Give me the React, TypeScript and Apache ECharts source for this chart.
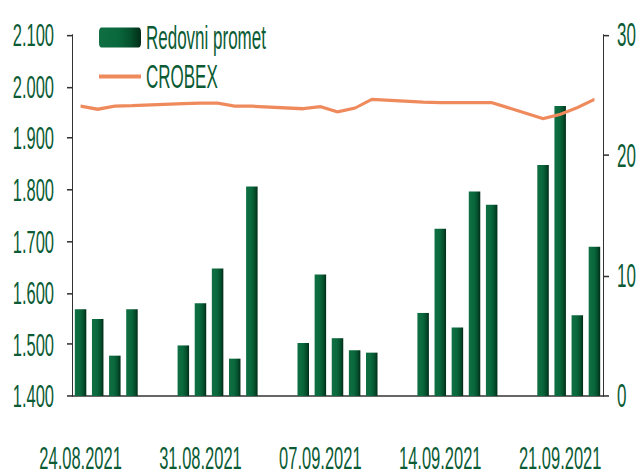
import React, { useEffect, useRef } from "react";
import * as echarts from "echarts";

// Calendar days shown on the category axis (weekends have no trading data)
const dates: string[] = [
  "24.08.2021", "25.08.2021", "26.08.2021", "27.08.2021", "28.08.2021", "29.08.2021", "30.08.2021",
  "31.08.2021", "01.09.2021", "02.09.2021", "03.09.2021", "04.09.2021", "05.09.2021", "06.09.2021",
  "07.09.2021", "08.09.2021", "09.09.2021", "10.09.2021", "11.09.2021", "12.09.2021", "13.09.2021",
  "14.09.2021", "15.09.2021", "16.09.2021", "17.09.2021", "18.09.2021", "19.09.2021", "20.09.2021",
  "21.09.2021", "22.09.2021", "23.09.2021",
];

// Redovni promet (right axis)
const turnover: (number | null)[] = [
  7.2, 6.4, 3.35, 7.2, null, null, 4.2,
  7.7, 10.6, 3.1, 17.4, null, null, 4.4,
  10.1, 4.8, 3.8, 3.6, null, null, 6.9,
  13.9, 5.7, 17.0, 15.9, null, null, 19.2,
  24.1, 6.7, 12.4,
];

// CROBEX (left axis)
const crobex: (number | null)[] = [
  1962, 1956, 1962, 1963, null, null, 1967,
  1968, 1968, 1962, 1962, null, null, 1957,
  1961, 1951, 1958, 1975, null, null, 1970,
  1969, 1969, 1969, 1969, null, null, 1938,
  1946, 1959, 1975,
];

const leftTicks = { min: 1400, max: 2100, interval: 100 };
const rightTicks = { min: 0, max: 30, interval: 10 };

const W = 641;
const H = 474;
const CH = 246; // unscaled chart height; stretched vertically to H
const SY = H / CH;

const GREEN = "#0b5b35";
const FONT = "'Liberation Sans', Arial, sans-serif";

export default function App() {
  const ref = useRef<HTMLDivElement>(null);
  useEffect(() => {
    if (!ref.current) return;
    const chart = echarts.init(ref.current, null, { renderer: "svg" });
    const barColor = new echarts.graphic.LinearGradient(0, 0, 1, 0, [
      { offset: 0, color: "#0f6f42" },
      { offset: 0.45, color: "#0a683d" },
      { offset: 0.75, color: "#05512d" },
      { offset: 1, color: "#012c17" },
    ]);
    const plotBottom = 399 / SY;
    chart.setOption({
      animation: false,
      textStyle: { fontFamily: FONT },
      grid: { left: 72, right: 38, top: 35 / SY, bottom: CH - plotBottom },
      legend: {
        orient: "vertical",
        left: 93,
        top: 6,
        itemWidth: 42,
        itemHeight: 10.4,
        itemGap: 3.2,
        textStyle: { fontFamily: FONT, fontSize: 17, color: GREEN, lineHeight: 17 },
        data: ["Redovni promet", { name: "CROBEX", itemStyle: { opacity: 0 } }],
      },
      xAxis: {
        type: "category",
        data: dates,
        boundaryGap: true,
        axisLine: { lineStyle: { color: "#333", width: 0.8 } },
        axisTick: { interval: 6, length: 3.6, lineStyle: { color: "#333" } },
        axisLabel: {
          interval: 6,
          margin: 26,
          fontSize: 16.5,
          lineHeight: 12,
          color: GREEN,
          fontFamily: FONT,
        },
      },
      yAxis: [
        {
          type: "value",
          min: leftTicks.min,
          max: leftTicks.max,
          interval: leftTicks.interval,
          axisLine: { show: true, lineStyle: { color: "#333", width: 1 } },
          axisTick: { show: true, length: 5, lineStyle: { color: "#333", width: 0.8 } },
          splitLine: { show: false },
          axisLabel: {
            margin: 18,
            fontSize: 16.5,
            color: GREEN,
            fontFamily: FONT,
            formatter: (v: number) => (v / 1000).toFixed(3),
          },
        },
        {
          type: "value",
          position: "right",
          min: rightTicks.min,
          max: rightTicks.max,
          interval: rightTicks.interval,
          axisLine: { show: true, lineStyle: { color: "#333", width: 1 } },
          axisTick: { show: true, length: 6, lineStyle: { color: "#333", width: 0.8 } },
          splitLine: { show: false },
          axisLabel: { margin: 14, fontSize: 17, color: GREEN, fontFamily: FONT },
        },
      ],
      series: [
        {
          name: "Redovni promet",
          type: "bar",
          yAxisIndex: 1,
          data: turnover,
          barWidth: 11.5,
          itemStyle: { color: barColor },
          z: 2,
        },
        {
          name: "CROBEX",
          type: "line",
          yAxisIndex: 0,
          data: crobex,
          connectNulls: true,
          symbol: "none",
          lineStyle: { color: "#ef8a5d", width: 1.7 },
          itemStyle: { color: "#ef8a5d" },
          z: 5,
        },
      ],
    });
    return () => chart.dispose();
  }, []);

  return (
    <div style={{ position: "absolute", left: 0, top: 0, width: W, height: H, overflow: "hidden", background: "#fff" }}>
      <div
        ref={ref}
        style={{ width: W, height: CH, transform: `scaleY(${SY})`, transformOrigin: "0 0" }}
      />
    </div>
  );
}
